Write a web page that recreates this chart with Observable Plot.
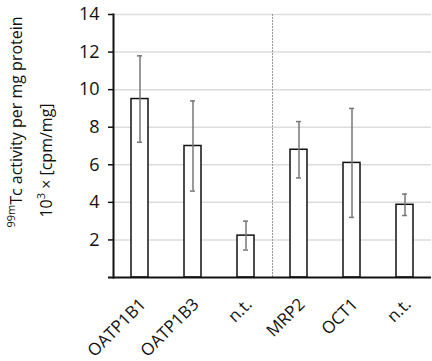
<!DOCTYPE html>
<html><head><meta charset="utf-8">
<script src="https://cdn.jsdelivr.net/npm/d3@7"></script>
<script src="https://cdn.jsdelivr.net/npm/@observablehq/plot@0.6"></script>
<style>body{margin:0;background:#fff}</style>
</head><body><div id="chart"></div>
<script>
const keys = ["OATP1B1", "OATP1B3", "n.t. A", "MRP2", "OCT1", "n.t. B"];
const labels = ["OATP1B1", "OATP1B3", "n.t.", "MRP2", "OCT1", "n.t."];
const values = [9.5, 7.0, 2.23, 6.8, 6.1, 3.87];
const errors = [2.3, 2.4, 0.77, 1.5, 2.9, 0.57];
const yTicks = [2, 4, 6, 8, 10, 12, 14];
const groupStart = ["MRP2"];
const yLabel1 = "99mTc activity per mg protein";
const yLabel2 = "103 × [cpm/mg]";

const data = keys.map((k, i) => ({key: k, label: labels[i], value: values[i], err: errors[i]}));
const font = "'Open Sans', 'DejaVu Sans', sans-serif";

const plot = Plot.plot({
  width: 432, height: 361,
  marginLeft: 113, marginRight: 1, marginTop: 14, marginBottom: 84,
  style: {fontFamily: font, fontSize: "17px", color: "#111", background: "#fff"},
  x: {domain: keys, paddingInner: 0.68, paddingOuter: 0.34, label: null},
  y: {domain: [0, 14], label: null},
  marks: [
    Plot.ruleY(yTicks, {stroke: "#dcdcdc", strokeWidth: 1.5}),
    Plot.ruleX(groupStart, {x: d => d, dx: -26.5, stroke: "#999", strokeDasharray: "2,1", strokeWidth: 1}),
    Plot.barY(data, {x: "key", y: "value", fill: "#fff", stroke: "#111", strokeWidth: 1.5}),
    Plot.ruleX(data, {x: "key", y1: d => d.value - d.err, y2: d => d.value + d.err, stroke: "#777", strokeWidth: 1.5}),
    Plot.tickY(data, {x: "key", y: d => d.value + d.err, stroke: "#777", strokeWidth: 1.5, insetLeft: 6, insetRight: 6}),
    Plot.tickY(data, {x: "key", y: d => d.value - d.err, stroke: "#777", strokeWidth: 1.5, insetLeft: 6, insetRight: 6}),
    Plot.axisY({ticks: yTicks, tickSize: 5, tickPadding: 9, tickFormat: d => d, fontSize: 18, strokeWidth: 1.5}),
    Plot.axisX({tickFormat: d => labels[keys.indexOf(d)], tickRotate: -45, tickSize: 0, tickPadding: 24, dx: 3, fontSize: 17}),
    Plot.ruleY([0], {stroke: "#111", strokeWidth: 2, insetLeft: -5}),
    Plot.frame({anchor: "left", stroke: "#111", strokeWidth: 2}),
    Plot.text([yLabel1], {frameAnchor: "left", textAnchor: "middle", lineAnchor: "middle", dx: -97, dy: -24, rotate: -90, fontSize: 16, fill: "#111"}),
    Plot.text([yLabel2], {frameAnchor: "left", textAnchor: "middle", lineAnchor: "middle", dx: -67, dy: 14.5, rotate: -90, fontSize: 16, fill: "#111"})
  ]
});

d3.select(plot).selectAll("text").each(function() {
  const t = this.textContent;
  const s = d3.select(this);
  if (t === yLabel1) {
    this.textContent = "";
    s.append("tspan").attr("baseline-shift", "super").attr("font-size", "11px").text("99m");
    s.append("tspan").text("Tc activity per mg protein");
  } else if (t === yLabel2) {
    this.textContent = "";
    s.append("tspan").text("10");
    s.append("tspan").attr("baseline-shift", "super").attr("font-size", "11px").text("3");
    s.append("tspan").text(" × [cpm/mg]");
  }
});

document.getElementById("chart").appendChild(plot);
</script>
</body></html>
